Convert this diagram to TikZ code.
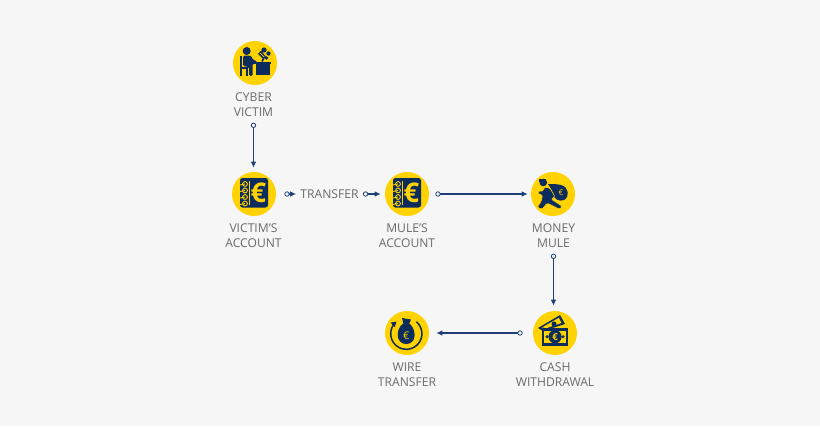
\documentclass[tikz,border=0pt]{standalone}
\usepackage{fontspec}
\setmainfont{Open Sans}
\usetikzlibrary{arrows.meta}
\definecolor{PageGray}{HTML}{F6F6F6}
\definecolor{BadgeYellow}{HTML}{FFD200}
\definecolor{IconNavy}{HTML}{0C2C5E}
\definecolor{LineBlue}{HTML}{1F3F78}
\definecolor{TextGray}{HTML}{6A6A6A}
\tikzset{
    badge/.style={circle,fill=BadgeYellow,minimum size=0.88cm,inner sep=0pt},
    caption/.style={align=center,text=TextGray,inner sep=0pt,
        font=\fontsize{6.9}{8.4}\selectfont},
    flow/.style={draw=LineBlue,line width=0.6pt,
        {Circle[open,fill=PageGray,length=3pt,width=3pt,line width=0.45pt]}-{Latex[length=3.4pt,width=3.2pt]}},
    euro/.style={text=#1,inner sep=0pt,font=\fontsize{15.5}{15.5}\selectfont\bfseries},
}
% icons, drawn around the centre of their badge
\newcommand\BookIcon[2]{%
    \begin{scope}[shift={(#1)}]
        \fill[IconNavy,rounded corners=0.05cm] (-14,-16) rectangle (14,13.5);
        \fill[BadgeYellow] (-5,-13.5) rectangle (-4,11);
        \foreach \ringy in {-10,-3.5,3,9.5} {
            \draw[BadgeYellow,line width=0.5pt] (-9,\ringy) circle (2.4);
            \draw[BadgeYellow,line width=0.5pt] (-14,\ringy+1) -- (-9,\ringy);
        }
        \node[euro=BadgeYellow] (#2) at (4.5,-0.8) {€};
    \end{scope}
}
\newcommand\DeskIcon[1]{%
    \begin{scope}[shift={(#1)}]
        \fill[IconNavy] (-8.3,-12) circle (4);
        \fill[IconNavy,rounded corners=0.03cm] (-12,-7.5) -- (-4,-7.5) -- (-2,-3) -- (2,-2) -- (2,0.5)
            -- (-2.5,0.5) -- (-2.5,13) -- (-6,13) -- (-6,4) -- (-12,3) -- cycle;
        \fill[IconNavy] (-15,-7) rectangle (-13,13);
        \fill[IconNavy] (-15,4) rectangle (-7,6);
        \fill[IconNavy] (-9,6) rectangle (-7.5,13);
        \fill[IconNavy] (-2.5,-1.5) rectangle (15.5,0.5);
        \fill[IconNavy] (1,0.5) rectangle (14.5,12);
        \draw[IconNavy,line width=0.9pt] (7,-1.5) -- (9,-5);
        \fill[IconNavy] (3,-9) -- (6,-12.5) -- (11,-6) -- (8,-4) -- cycle;
        \fill[IconNavy] (9,-13) circle (2.6);
        \fill[IconNavy] (13.5,-9.5) circle (2.2);
        \fill[IconNavy] (11.5,-5) circle (1.8);
        \draw[BadgeYellow,line width=0.4pt] (5,-10) -- (9,-6);
    \end{scope}
}
\newcommand\MuleIcon[2]{%
    \begin{scope}[shift={(#1)}]
        \fill[IconNavy] (-5,-10) .. controls (0,-10) and (4,-10) .. (8,-9)
            .. controls (16,-7) and (17,3) .. (11,6) .. controls (6,8) and (1,5) .. (0,0)
            .. controls (-1,-4) and (-3,-7) .. (-5,-10) -- cycle;
        \fill[IconNavy] (-9.7,-11.5) circle (3.8);
        \fill[IconNavy] (-14,-15) rectangle (-7,-12.5);
        \filldraw[IconNavy,draw=BadgeYellow,line width=0.35pt,rounded corners=0.03cm]
            (-9,-7) -- (-3,-6) -- (2,3) -- (-2,5) -- (9,12) -- (7,15.5) -- (-6,9) -- (-9,13)
            -- (-11,15.5) -- (-16,13) -- (-12,8) -- (-10.5,1) -- (-15,0) -- (-15,-3) -- (-9.5,-3) -- cycle;
        \node[text=BadgeYellow,inner sep=0pt,font=\fontsize{4.5}{4.5}\selectfont] (#2) at (8,-1.5) {€};
    \end{scope}
}
\newcommand\CashIcon[2]{%
    \begin{scope}[shift={(#1)}]
        \fill[IconNavy] (-17,-5) -- (5,-18) -- (10,-9) -- (-12,-2) -- cycle;
        \fill[BadgeYellow] (-13,-5.5) -- (3.8,-15.2) -- (6.5,-10) -- (-8,-5) -- cycle;
        \fill[IconNavy] (-1,-9) circle (2.5);
        \fill[IconNavy] (-13.5,-5) rectangle (13,12.5);
        \fill[BadgeYellow] (-11,-2.5) rectangle (10.5,10);
        \fill[IconNavy] (0,3.7) circle (6.6);
        \fill[IconNavy] (-8,3.7) circle (1.7);
        \fill[IconNavy] (8,3.7) circle (1.7);
        \node[text=BadgeYellow,inner sep=0pt,font=\fontsize{5.5}{5.5}\selectfont\bfseries] (#2) at (0,3.7) {€};
    \end{scope}
}
\newcommand\WireIcon[2]{%
    \begin{scope}[shift={(#1)}]
        \draw[IconNavy,line width=0.85pt,-{Latex[length=3pt,width=4pt]}]
            plot[smooth,samples=30,domain=-50:232] ({-0.7+15.6*cos(\x)},{0.7+15.6*sin(\x)});
        \fill[IconNavy] (-4,-9.5) .. controls (-12,-3) and (-11,11) .. (-0.7,11)
            .. controls (9.5,11) and (10,-3) .. (2.5,-9.5) -- cycle;
        \fill[IconNavy] (-5,-15) -- (4,-13.5) -- (2,-9) -- (-3.5,-9) -- cycle;
        \node[text=BadgeYellow,inner sep=0pt,font=\fontsize{6}{6}\selectfont] (#2) at (-0.7,2.5) {€};
    \end{scope}
}

\begin{document}
\begin{tikzpicture}[x=0.02cm,y=-0.02cm]
    \fill[PageGray] (0,0) rectangle (820,426);
    \useasboundingbox (0,0) rectangle (820,426);
    % badges
    \node[badge] (cyber) at (255,63) {};
    \node[badge] (victim) at (254,194) {};
    \node[badge] (mulebook) at (407,194) {};
    \node[badge] (money) at (553,194) {};
    \node[badge] (cash) at (555,333) {};
    \node[badge] (wire) at (407,333) {};
    \DeskIcon{cyber}
    \BookIcon{victim}{victimeuro}
    \BookIcon{mulebook}{muleeuro}
    \MuleIcon{money}{moneyeuro}
    \CashIcon{cash}{casheuro}
    \WireIcon{wire}{wireeuro}
    % captions
    \node[caption] (cyberlabel) at (253.5,104.5) {CYBER\\VICTIM};
    \node[caption] (victimlabel) at (253.5,235.5) {VICTIM’S\\ACCOUNT};
    \node[caption] (transfer) at (329.5,194) {TRANSFER};
    \node[caption] (mulelabel) at (407,235.5) {MULE’S\\ACCOUNT};
    \node[caption] (moneylabel) at (553.5,235.5) {MONEY\\MULE};
    \node[caption] (wirelabel) at (407,374.5) {WIRE\\TRANSFER};
    \node[caption] (cashlabel) at (555,374.5) {CASH\\WITHDRAWAL};
    % connectors
    \draw[flow,shorten <=0.12cm,shorten >=0.08cm] (cyberlabel.south) -- (cyberlabel.south |- victim.north);
    \draw[flow,shorten <=0.16cm,shorten >=0.08cm] (victim.east) -- (transfer.west);
    \draw[flow,shorten <=0.08cm,shorten >=0.08cm] (transfer.east) -- (mulebook.west);
    \draw[flow,shorten <=0.12cm,shorten >=0.06cm] (mulebook.east) -- (money.west);
    \draw[flow,shorten <=0.12cm,shorten >=0.1cm] (moneylabel.south) -- (moneylabel.south |- cash.north);
    \draw[flow,shorten <=0.2cm,shorten >=0.14cm] (cash.west) -- (wire.east);
\end{tikzpicture}
\end{document}
